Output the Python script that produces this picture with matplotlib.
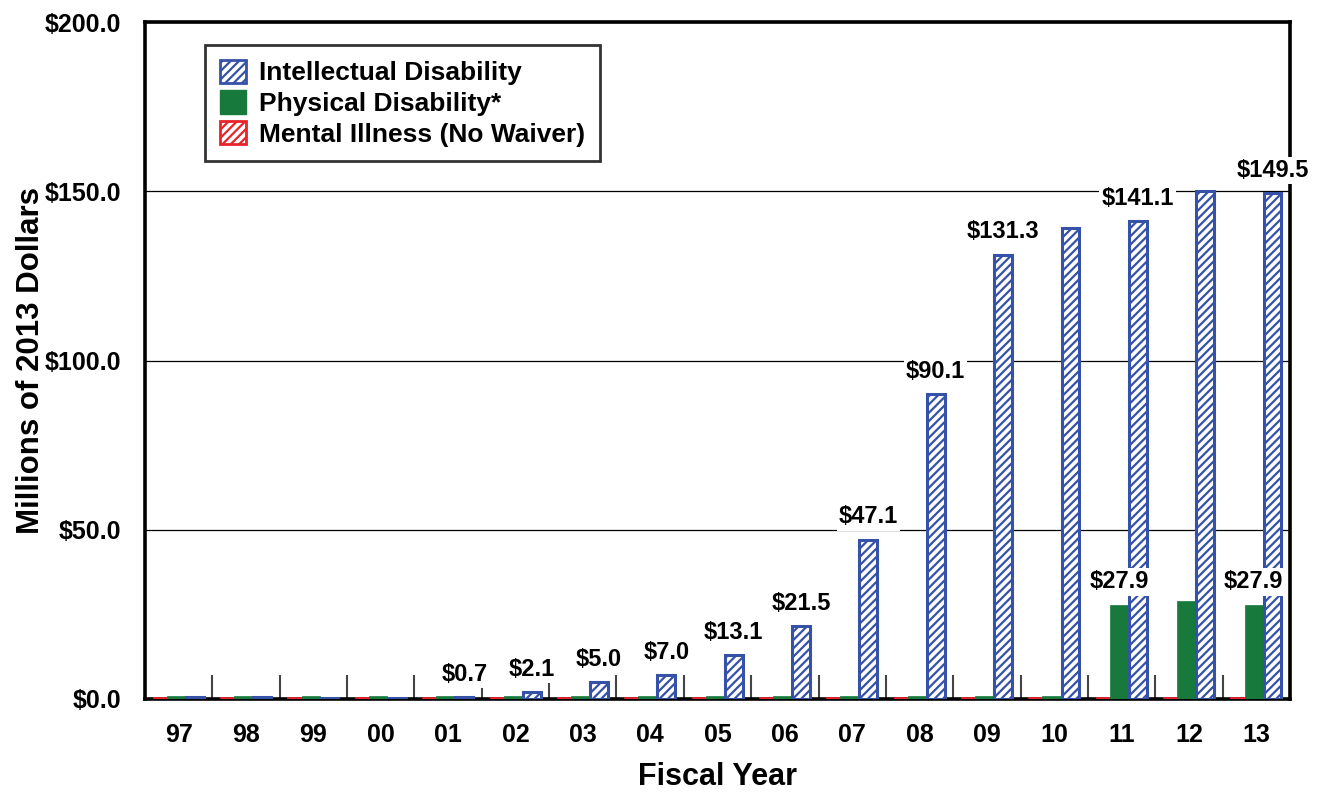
import numpy as np
import matplotlib.pyplot as plt

plt.rcParams['font.family'] = ['Liberation Sans', 'DejaVu Sans']
plt.rcParams['font.weight'] = 'bold'
plt.rcParams['hatch.linewidth'] = 1.6

# fiscal years and spending (millions of 2013 dollars)
years = ['97', '98', '99', '00', '01', '02', '03', '04', '05', '06',
         '07', '08', '09', '10', '11', '12', '13']
intellectual = [0.5, 0.5, 0.4, 0.4, 0.7, 2.1, 5.0, 7.0, 13.1, 21.5,
                47.1, 90.1, 131.3, 139.0, 141.1, 150.2, 149.5]
physical = [0.9, 0.9, 0.9, 0.9, 0.9, 0.9, 0.9, 0.9, 0.9, 0.9,
            0.9, 0.9, 0.9, 0.9, 27.9, 29.0, 27.9]
mental = [0.6] * 17

id_labels = [None, None, None, None, '$0.7', '$2.1', '$5.0', '$7.0', '$13.1',
             '$21.5', '$47.1', '$90.1', '$131.3', None, '$141.1', None, '$149.5']
pd_labels = {14: '$27.9', 16: '$27.9'}

blue = '#3552A8'
green = '#177A3C'
red = '#E8232A'

fig = plt.figure(figsize=(13.2, 7.93), dpi=100)
ax = fig.add_axes([145 / 1320, 94 / 793, 1145 / 1320, 677 / 793])

x = np.arange(len(years))

ax.bar(x - 0.28, mental, 0.21, color=red, edgecolor=red, linewidth=0.5, zorder=3)
ax.bar(x - 0.04, physical, 0.27, color=green, edgecolor=green, linewidth=0.5, zorder=3)
ax.bar(x + 0.24, intellectual, 0.265, color='white', edgecolor=blue, hatch='////',
       linewidth=2.2, zorder=3)

# legend handles
ax.bar([0], [0], color='white', edgecolor=blue, hatch='////', linewidth=2,
       label='Intellectual Disability')
ax.bar([0], [0], color=green, edgecolor=green, label='Physical Disability*')
ax.bar([0], [0], color='white', edgecolor=red, hatch='////', linewidth=2,
       label='Mental Illness (No Waiver)')

bbox = dict(facecolor='white', edgecolor='none', pad=1.5)
for i, lab in enumerate(id_labels):
    if lab is None:
        continue
    ax.annotate(lab, (x[i] + 0.24, intellectual[i]), xytext=(0, 8),
                textcoords='offset points', ha='center', va='bottom',
                fontsize=17, fontweight='bold', bbox=bbox, zorder=5)
for i, lab in pd_labels.items():
    ax.annotate(lab, (x[i] - 0.04, physical[i]), xytext=(0, 8),
                textcoords='offset points', ha='center', va='bottom',
                fontsize=17, fontweight='bold', bbox=bbox, zorder=5)

ax.set_xlim(-0.5, len(years) - 0.5)
ax.set_ylim(0, 200)
ax.set_yticks([0, 50, 100, 150, 200])
ax.set_yticklabels(['${:.1f}'.format(v) for v in [0, 50, 100, 150, 200]],
                   fontsize=18, fontweight='bold')
ax.tick_params(axis='y', length=0, pad=17)
ax.yaxis.grid(True, color='black', linewidth=0.9)
ax.set_axisbelow(True)

ax.set_xticks(np.arange(0.5, len(years) - 1, 1.0))
ax.set_xticklabels([])
ax.tick_params(axis='x', which='major', direction='in', length=17, width=1.5,
               color='#444444')
ax.set_xticks(x, minor=True)
ax.set_xticklabels(years, minor=True, fontsize=18, fontweight='bold')
ax.tick_params(axis='x', which='minor', length=0, pad=17)

for s in ax.spines.values():
    s.set_linewidth(2.6)
    s.set_zorder(2.5)

ax.set_ylabel('Millions of 2013 Dollars', fontsize=22.5, fontweight='bold', labelpad=-1)
ax.set_xlabel('Fiscal Year', fontsize=22, fontweight='bold', labelpad=11)

leg = ax.legend(loc='upper left', bbox_to_anchor=(60 / 1145, 0.966), fontsize=19,
                frameon=True, fancybox=False, handlelength=1.0, handleheight=1.0,
                handletextpad=0.5, borderpad=0.55, labelspacing=0.18,
                borderaxespad=0)
leg.get_frame().set_edgecolor('black')
leg.get_frame().set_linewidth(2)
leg.set_zorder(7)
for t in leg.get_texts():
    t.set_fontweight('bold')

fig.savefig('out.png', dpi=100)
